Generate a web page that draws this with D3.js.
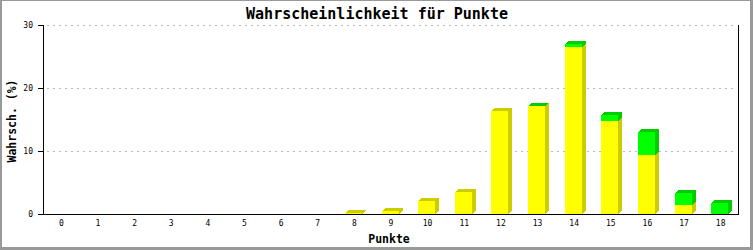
<!DOCTYPE html>
<html><head><meta charset="utf-8">
<script src="https://cdn.jsdelivr.net/npm/d3@7"></script>
<style>
html,body{margin:0;padding:0;background:#fff;}
svg{display:block;}
</style></head>
<body>
<script>
const categories = ["0","1","2","3","4","5","6","7","8","9","10","11","12","13","14","15","16","17","18"];
const yellowValues = [0,0,0,0,0,0,0,0,0.12,0.4,2.0,3.5,16.4,17.1,26.55,14.8,9.4,1.48,0];
const greenValues  = [0,0,0,0,0,0,0,0,0,0,0,0,0,0.1,0.5,0.95,3.65,1.9,1.8];
const yTicks = [0,10,20,30];
const chartTitle = "Wahrscheinlichkeit für Punkte";
const xTitle = "Punkte";
const yTitle = "Wahrsch. (%)";

(function(){
const W = 753, H = 250;
const svg = d3.select("body").append("svg").attr("width", W).attr("height", H);

// frame
svg.append("rect").attr("x",0).attr("y",0).attr("width",W).attr("height",H).attr("fill","#999");
svg.append("rect").attr("x",2).attr("y",1).attr("width",748).attr("height",246).attr("fill","#fff");

const pL = 43, pR = 739, pT = 25, pB = 214;
const x = d3.scaleBand().domain(categories).range([pL, pR]).paddingInner(0).paddingOuter(0);
const y = d3.scaleLinear().domain([0,30]).range([pB, pT]);

const mono = "'DejaVu Sans Mono', 'Liberation Mono', monospace";

// grid
const grid = svg.append("g");
yTicks.filter(t => t > 0).forEach(t => {
  grid.append("line")
    .attr("x1", 47).attr("x2", 736)
    .attr("y1", Math.round(y(t)) + 0.5).attr("y2", Math.round(y(t)) + 0.5)
    .attr("stroke", "#bbb").attr("stroke-width", 1)
    .attr("stroke-dasharray", "2,4");
});

// bars
const FW = 17, DX = 4, DY = 3;
const colors = [
  {front: "#ffff00", dark: "#cccc00"},
  {front: "#00ff00", dark: "#00cc00"}
];
const barsG = svg.append("g").attr("shape-rendering", "crispEdges");
categories.forEach((c, i) => {
  const segs = [yellowValues[i], greenValues[i]];
  let base = 0;
  const x0 = Math.round(x(c) + x.bandwidth()/2 - 9.5);
  segs.forEach((v, k) => {
    if (v <= 0) return;
    const yb = Math.round(y(base));
    const yt = Math.round(y(base + v));
    const col = colors[k];
    const g = barsG.append("g");
    g.append("rect").attr("x", x0).attr("y", yt).attr("width", FW).attr("height", Math.max(0, yb - yt)).attr("fill", col.front);
    g.append("polygon")
      .attr("points", [[x0+FW, yb],[x0+FW+DX, yb-DY],[x0+FW+DX, yt-DY],[x0+FW, yt]].map(p=>p.join(",")).join(" "))
      .attr("fill", col.dark);
    g.append("polygon")
      .attr("points", [[x0, yt],[x0+FW, yt],[x0+FW+DX, yt-DY],[x0+DX, yt-DY]].map(p=>p.join(",")).join(" "))
      .attr("fill", col.dark);
    base += v;
  });
});

// axes lines
svg.append("line").attr("x1", pL+0.5).attr("x2", pL+0.5).attr("y1", pT).attr("y2", pB+1).attr("stroke","#000");
svg.append("line").attr("x1", pR-0.5).attr("x2", pR-0.5).attr("y1", pT).attr("y2", pB+1).attr("stroke","#000");
svg.append("line").attr("x1", pL).attr("x2", pR).attr("y1", pB+0.5).attr("y2", pB+0.5).attr("stroke","#000");

// y ticks
yTicks.forEach(t => {
  const yy = Math.round(y(t)) + 0.5;
  svg.append("line").attr("x1", 38).attr("x2", pL).attr("y1", yy).attr("y2", yy).attr("stroke","#000");
  svg.append("text").attr("x", 33).attr("y", yy + 2.5)
    .attr("text-anchor","end").attr("font-family", mono).attr("font-size", 8).attr("fill","#000")
    .text(t);
});

// x tick labels
categories.forEach(c => {
  svg.append("text").attr("x", x(c) + x.bandwidth()/2).attr("y", 225.5)
    .attr("text-anchor","middle").attr("font-family", mono).attr("font-size", 8).attr("fill","#000")
    .text(c);
});

// titles
svg.append("text").attr("x", 377).attr("y", 18.5).attr("text-anchor","middle")
  .attr("font-family", mono).attr("font-weight","bold").attr("font-size", 15).text(chartTitle);
svg.append("text").attr("x", 389).attr("y", 243).attr("text-anchor","middle")
  .attr("font-family", mono).attr("font-weight","bold").attr("font-size", 11.5).text(xTitle);
svg.append("text").attr("transform", "translate(16,121) rotate(-90)").attr("text-anchor","middle")
  .attr("font-family", mono).attr("font-weight","bold").attr("font-size", 11.5).text(yTitle);
})();
</script>
</body></html>
